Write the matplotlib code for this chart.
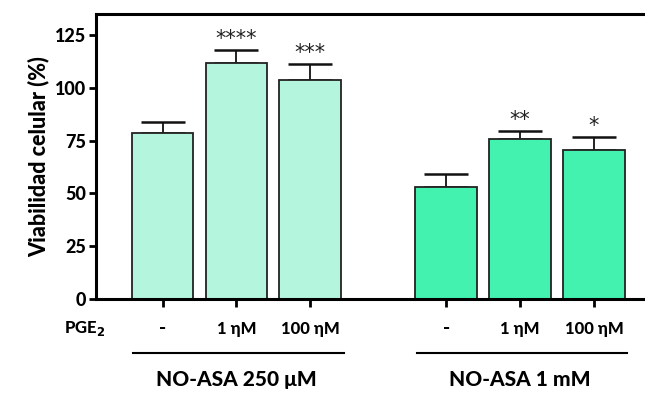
import matplotlib
matplotlib.use("Agg")
import matplotlib.pyplot as plt

means = [78.7, 111.7, 103.8, 53.0, 75.8, 70.5]
errs = [5.3, 6.2, 7.5, 6.0, 3.7, 6.3]
stars = ["", "****", "***", "", "**", "*"]
pge_labels = ["-", "1 ηM", "100 ηM", "-", "1 ηM", "100 ηM"]
groups = ["NO-ASA 250 μM", "NO-ASA 1 mM"]
colors = ["#b3f6dd"] * 3 + ["#44f2b0"] * 3
positions = [0, 1, 2, 3.84, 4.84, 5.84]

plt.rcParams['font.family'] = ['Lato', 'DejaVu Sans']
fig = plt.figure(figsize=(6.45, 3.94), dpi=100)
ax = fig.add_axes([96/645, 1-299/394, 1-96/645, (299-14)/394])

ax.bar(positions, means, width=0.836, color=colors, edgecolor="#222222", linewidth=1.3, zorder=2)
ax.errorbar(positions, means, yerr=[[0]*6, errs], fmt='none', ecolor='#111111',
            elinewidth=1.3, capsize=16, capthick=1.8, zorder=1)
for p, m, e, s in zip(positions, means, errs, stars):
    if s:
        ax.text(p, m + e + 0.5, s, ha='center', va='bottom', fontsize=15,
                family='DejaVu Sans', color='#222222')

ax.set_xlim(-0.9, 6.53)
ax.set_ylim(0, 135)
ax.set_yticks([0, 25, 50, 75, 100, 125])
ax.set_yticklabels(["0", "25", "50", "75", "100", "125"], fontweight='black', fontsize=13)
ax.set_xticks(positions)
ax.set_xticklabels([])
ax.tick_params(axis='y', length=5, width=2, direction='out', pad=2)
ax.tick_params(axis='x', length=6, width=2, direction='out')
for sp in ['left', 'bottom', 'top']:
    ax.spines[sp].set_linewidth(2.2)
ax.spines['right'].set_visible(False)
ax.set_ylabel("Viabilidad celular (%)", fontsize=15.5, fontweight='black', labelpad=4)

# lower labels
ax.text(-1.05, -14, "PGE$_\\mathbf{2}$", ha='center', va='center', fontsize=12,
        fontweight='black', clip_on=False)
for p, lab in zip(positions, pge_labels):
    fs = 14 if lab == "-" else 12
    ax.text(p, -14, lab, ha='center', va='center', fontsize=fs, fontweight='black', clip_on=False)
for gi, g in enumerate(groups):
    x0 = positions[gi*3] - 0.4
    x1 = positions[gi*3+2] + 0.45
    ax.plot([x0, x1], [-25.5, -25.5], color='black', lw=1.5, clip_on=False)
    ax.text((positions[gi*3] + positions[gi*3+2]) / 2, -38, g, ha='center', va='center',
            fontsize=15, fontweight='black', clip_on=False)

fig.savefig("out.png", dpi=100)
